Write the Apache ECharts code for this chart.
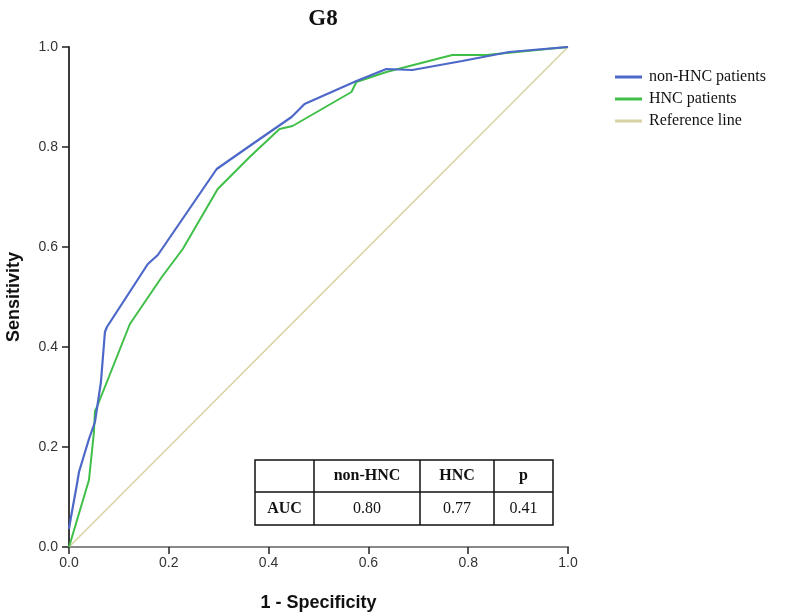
<!DOCTYPE html>
<html>
<head>
<meta charset="utf-8">
<script src="https://cdn.jsdelivr.net/npm/echarts@6/dist/echarts.min.js"></script>
<style>html,body{margin:0;padding:0;background:#fff}#c{width:787px;height:616px}</style>
</head>
<body>
<div id="c"></div>
<script>
const titleText = 'G8';
const xName = '1 - Specificity';
const yName = 'Sensitivity';
const seriesNames = ['non-HNC patients', 'HNC patients', 'Reference line'];

const fprNonHNC = [0, 0.004, 0.016, 0.02, 0.04, 0.052, 0.064, 0.072, 0.076, 0.158, 0.178, 0.296, 0.362, 0.446, 0.472, 0.576, 0.636, 0.688, 0.788, 0.882, 1];
const tprNonHNC = [0.036, 0.06, 0.126, 0.15, 0.216, 0.25, 0.33, 0.43, 0.44, 0.566, 0.584, 0.756, 0.802, 0.86, 0.886, 0.932, 0.956, 0.954, 0.972, 0.99, 1];

const fprHNC = [0, 0.04, 0.05, 0.052, 0.056, 0.122, 0.186, 0.228, 0.298, 0.362, 0.422, 0.448, 0.566, 0.576, 0.636, 0.768, 0.836, 1];
const tprHNC = [0, 0.134, 0.23, 0.272, 0.28, 0.446, 0.54, 0.596, 0.716, 0.78, 0.836, 0.842, 0.91, 0.93, 0.95, 0.984, 0.984, 1];

const refX = [0, 1];
const refY = [0, 1];

const tableHeader = ['', 'non-HNC', 'HNC', 'p'];
const tableRow = ['AUC', '0.80', '0.77', '0.41'];

const colors = ['#4d68c8', '#3fbf48', '#d9d2a2'];

function zip(a, b) { return a.map((v, i) => [v, b[i]]); }

const chart = echarts.init(document.getElementById('c'));

// table geometry
const colX = [255, 314, 420, 494, 553];
const rowY = [460, 492, 525];
const tableEls = [];
tableEls.push({type: 'rect', shape: {x: colX[0], y: rowY[0], width: colX[4] - colX[0], height: rowY[2] - rowY[0]}, style: {fill: '#fff', stroke: '#111', lineWidth: 1.5}, z: 100});
tableEls.push({type: 'line', shape: {x1: colX[0], y1: rowY[1], x2: colX[4], y2: rowY[1]}, style: {stroke: '#111', lineWidth: 1.5}, z: 101});
for (let i = 1; i < 4; i++) {
  tableEls.push({type: 'line', shape: {x1: colX[i], y1: rowY[0], x2: colX[i], y2: rowY[2]}, style: {stroke: '#111', lineWidth: 1.5}, z: 101});
}
for (let i = 0; i < 4; i++) {
  const cx = (colX[i] + colX[i + 1]) / 2;
  if (tableHeader[i]) tableEls.push({type: 'text', x: cx, y: (rowY[0] + rowY[1]) / 2, style: {text: tableHeader[i], font: 'bold 16px "Liberation Serif"', fill: '#111', align: 'center', verticalAlign: 'middle'}, z: 102});
  tableEls.push({type: 'text', x: cx, y: (rowY[1] + rowY[2]) / 2, style: {text: tableRow[i], font: (i === 0 ? 'bold ' : '') + '16px "Liberation Serif"', fill: '#111', align: 'center', verticalAlign: 'middle'}, z: 102});
}

const axisLabel = {color: '#333', fontFamily: 'Liberation Sans', fontSize: 14, formatter: v => v.toFixed(1)};

chart.setOption({
  animation: false,
  backgroundColor: '#fff',
  title: {text: titleText, left: 318, top: 3, textAlign: 'center', textStyle: {fontFamily: 'Liberation Serif', fontWeight: 'bold', fontSize: 23, color: '#111'}},
  grid: {left: 69, right: 219, top: 47, bottom: 69, containLabel: false, outerBoundsMode: 'none'},
  legend: {
    orient: 'vertical', left: 610, top: 64, itemWidth: 27, itemHeight: 3, itemGap: 6, icon: 'rect',
    data: seriesNames,
    textStyle: {fontFamily: 'Liberation Serif', fontSize: 16, color: '#111', padding: [0, 0, 0, 2]}
  },
  xAxis: [{
    type: 'value', min: 0, max: 1, interval: 0.2,
    name: xName, nameLocation: 'middle', nameGap: 47,
    nameTextStyle: {fontFamily: 'Liberation Sans', fontWeight: 'bold', fontSize: 18, color: '#111'},
    axisLine: {lineStyle: {color: '#222', width: 1.5}},
    axisTick: {inside: false, length: 7, lineStyle: {color: '#222', width: 1.5}},
    axisLabel: Object.assign({margin: 9}, axisLabel),
    splitLine: {show: false}
  }, {
    type: 'value', min: 0, max: 1, position: 'top',
    axisLine: {show: true, lineStyle: {color: '#888', width: 2}},
    axisTick: {show: false}, axisLabel: {show: false}, splitLine: {show: false}
  }],
  yAxis: [{
    type: 'value', min: 0, max: 1, interval: 0.2,
    name: yName, nameLocation: 'middle', nameGap: 46,
    nameTextStyle: {fontFamily: 'Liberation Sans', fontWeight: 'bold', fontSize: 18, color: '#111'},
    axisLine: {show: true, lineStyle: {color: '#222', width: 1.5}},
    axisTick: {show: true, inside: false, length: 7, lineStyle: {color: '#222', width: 1.5}},
    axisLabel: Object.assign({margin: 11}, axisLabel),
    splitLine: {show: false}
  }, {
    type: 'value', min: 0, max: 1, position: 'right',
    axisLine: {show: true, lineStyle: {color: '#333', width: 1.5}},
    axisTick: {show: false}, axisLabel: {show: false}, splitLine: {show: false}
  }],
  series: [
    {name: seriesNames[2], type: 'line', data: zip(refX, refY), symbol: 'none', lineStyle: {color: colors[2], width: 1.6}, itemStyle: {color: colors[2]}, z: 2},
    {name: seriesNames[1], type: 'line', data: zip(fprHNC, tprHNC), symbol: 'none', lineStyle: {color: colors[1], width: 2}, itemStyle: {color: colors[1]}, z: 3},
    {name: seriesNames[0], type: 'line', data: zip(fprNonHNC, tprNonHNC), symbol: 'none', lineStyle: {color: colors[0], width: 2.2}, itemStyle: {color: colors[0]}, z: 4}
  ],
  graphic: tableEls
});
</script>
</body>
</html>
